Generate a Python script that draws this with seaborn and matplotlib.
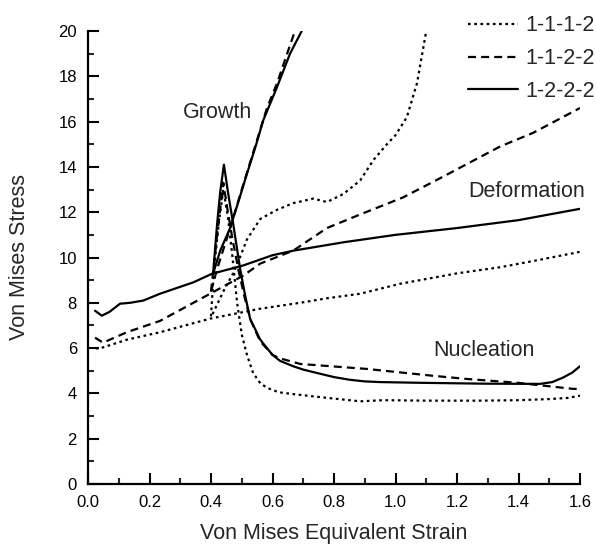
import numpy as np
import pandas as pd
import matplotlib
matplotlib.use("Agg")
import matplotlib.pyplot as plt
from matplotlib.ticker import MultipleLocator, FormatStrFormatter
import seaborn as sns

# ---------------- data ----------------
series_names = ["1-1-1-2", "1-1-2-2", "1-2-2-2"]

# 1-1-1-2 (dotted)
d_def_x = [0.025, 0.035, 0.126, 0.234, 0.397, 0.56, 0.69, 0.777, 0.885, 1.015, 1.2, 1.34, 1.45, 1.6]
d_def_y = [6.0, 5.97, 6.37, 6.7, 7.3, 7.74, 8.0, 8.2, 8.4, 8.84, 9.3, 9.57, 9.85, 10.25]
d_gro_x = [0.405, 0.44, 0.472, 0.494, 0.517, 0.56, 0.614, 0.667, 0.733, 0.777, 0.83, 0.885, 0.928, 0.972, 1.0, 1.037, 1.07, 1.10]
d_gro_y = [7.5, 8.5, 9.3, 10.0, 10.8, 11.7, 12.1, 12.4, 12.6, 12.45, 12.8, 13.4, 14.3, 15.0, 15.4, 16.2, 17.7, 20.0]
d_nuc_x = [0.40, 0.405, 0.41, 0.425, 0.44, 0.455, 0.47, 0.485, 0.50, 0.517, 0.537, 0.56, 0.582, 0.62, 0.667, 0.745, 0.885, 0.96, 1.1, 1.285, 1.4, 1.5, 1.56, 1.6]
d_nuc_y = [7.4, 8.5, 9.5, 11.5, 13.0, 11.8, 10.0, 8.0, 6.6, 5.7, 4.9, 4.45, 4.25, 4.05, 3.97, 3.85, 3.65, 3.7, 3.68, 3.68, 3.7, 3.75, 3.8, 3.9]

# 1-1-2-2 (dashed)
s_def_x = [0.023, 0.049, 0.126, 0.234, 0.397, 0.505, 0.56, 0.667, 0.777, 0.885, 1.024, 1.145, 1.34, 1.447, 1.6]
s_def_y = [6.46, 6.24, 6.7, 7.2, 8.4, 9.2, 9.73, 10.3, 11.3, 11.9, 12.65, 13.5, 14.9, 15.5, 16.6]
s_gro_x = [0.40, 0.42, 0.46, 0.50, 0.55, 0.582, 0.615, 0.645, 0.673]
s_gro_y = [8.5, 9.5, 11.2, 13.0, 15.2, 16.6, 17.7, 18.9, 20.0]
s_nuc_x = [0.40, 0.42, 0.44, 0.455, 0.47, 0.49, 0.51, 0.53, 0.56, 0.60, 0.624, 0.69, 0.907, 1.12, 1.23, 1.395, 1.577, 1.6]
s_nuc_y = [8.5, 11.0, 13.3, 12.0, 10.8, 9.4, 8.2, 7.2, 6.3, 5.7, 5.55, 5.3, 5.08, 4.78, 4.64, 4.47, 4.2, 4.2]

# 1-2-2-2 (solid)
l_def_x = [0.023, 0.045, 0.07, 0.104, 0.137, 0.18, 0.234, 0.342, 0.403, 0.505, 0.60, 0.667, 0.83, 1.0, 1.2, 1.4, 1.6]
l_def_y = [7.65, 7.43, 7.6, 7.96, 8.0, 8.1, 8.4, 8.9, 9.28, 9.65, 10.1, 10.3, 10.67, 11.0, 11.3, 11.65, 12.15]
l_gro_x = [0.407, 0.43, 0.462, 0.49, 0.517, 0.545, 0.57, 0.614, 0.657, 0.695]
l_gro_y = [9.3, 10.3, 11.3, 12.5, 13.7, 14.9, 16.06, 17.5, 19.0, 20.0]
l_nuc_x = [0.407, 0.42, 0.43, 0.442, 0.455, 0.472, 0.494, 0.51, 0.527, 0.545, 0.559, 0.57, 0.60, 0.624, 0.667, 0.70, 0.745, 0.80, 0.852, 0.90, 0.95, 1.07, 1.285, 1.47, 1.51, 1.545, 1.575, 1.6]
l_nuc_y = [9.3, 11.5, 12.9, 14.1, 12.9, 11.5, 9.56, 8.4, 7.3, 6.8, 6.4, 6.2, 5.7, 5.44, 5.2, 5.05, 4.9, 4.72, 4.6, 4.53, 4.5, 4.47, 4.43, 4.42, 4.5, 4.7, 4.92, 5.2]

curves = {
    ("1-1-1-2", "Deformation"): (d_def_x, d_def_y),
    ("1-1-1-2", "Growth"): (d_gro_x, d_gro_y),
    ("1-1-1-2", "Nucleation"): (d_nuc_x, d_nuc_y),
    ("1-1-2-2", "Deformation"): (s_def_x, s_def_y),
    ("1-1-2-2", "Growth"): (s_gro_x, s_gro_y),
    ("1-1-2-2", "Nucleation"): (s_nuc_x, s_nuc_y),
    ("1-2-2-2", "Deformation"): (l_def_x, l_def_y),
    ("1-2-2-2", "Growth"): (l_gro_x, l_gro_y),
    ("1-2-2-2", "Nucleation"): (l_nuc_x, l_nuc_y),
}

rows = []
for (ser, cur), (xs, ys) in curves.items():
    for x, y in zip(xs, ys):
        rows.append({"strain": x, "stress": y, "series": ser, "curve": cur})
df = pd.DataFrame(rows)

# ---------------- style ----------------
sns.set_style("ticks")
plt.rcParams["font.family"] = ["Liberation Sans", "DejaVu Sans"]

styles = {
    "1-1-1-2": (0, (1.2, 1.6)),
    "1-1-2-2": (0, (3.6, 2.3)),
    "1-2-2-2": "-",
}
LW = 1.6

fig = plt.figure(figsize=(5.96, 5.48), dpi=100)
ax = fig.add_axes([88 / 596, 1 - 484 / 548, (580 - 88) / 596, (484 - 31) / 548])

for ser in series_names:
    for cur in ["Deformation", "Growth", "Nucleation"]:
        sub = df[(df.series == ser) & (df.curve == cur)]
        sns.lineplot(data=sub, x="strain", y="stress", ax=ax, sort=False,
                     estimator=None, color="black", lw=LW,
                     linestyle=styles[ser],
                     label=ser if cur == "Deformation" else "_nolegend_",
                     legend=False)

ax.set_xlim(0, 1.6)
ax.set_ylim(0, 20)
ax.xaxis.set_major_locator(MultipleLocator(0.2))
ax.xaxis.set_minor_locator(MultipleLocator(0.1))
ax.yaxis.set_major_locator(MultipleLocator(2))
ax.yaxis.set_minor_locator(MultipleLocator(1))
ax.xaxis.set_major_formatter(FormatStrFormatter("%.1f"))
ax.tick_params(which="major", direction="in", length=8, width=1.5,
               labelsize=12, pad=8, colors="black")
ax.tick_params(which="minor", direction="in", length=4.5, width=1.5)
sns.despine(ax=ax)
for sp in ["left", "bottom"]:
    ax.spines[sp].set_linewidth(1.6)
    ax.spines[sp].set_color("black")

ax.set_xlabel("Von Mises Equivalent Strain", fontsize=15.5, labelpad=9)
ax.set_ylabel("Von Mises Stress", fontsize=15.5, labelpad=20)

ax.text(0.309, 16.4, "Growth", fontsize=15.5, ha="left", va="center")
ax.text(1.236, 12.9, "Deformation", fontsize=15.5, ha="left", va="center")
ax.text(1.122, 5.9, "Nucleation", fontsize=15.5, ha="left", va="center")

handles, labels = ax.get_legend_handles_labels()
fig.legend(handles, labels, loc="upper left", bbox_to_anchor=(0.785, 0.972),
           frameon=False, fontsize=15.5, handlelength=2.33, handletextpad=0.33,
           labelspacing=0.55, borderpad=0, borderaxespad=0)

fig.savefig("out.png", dpi=100)
